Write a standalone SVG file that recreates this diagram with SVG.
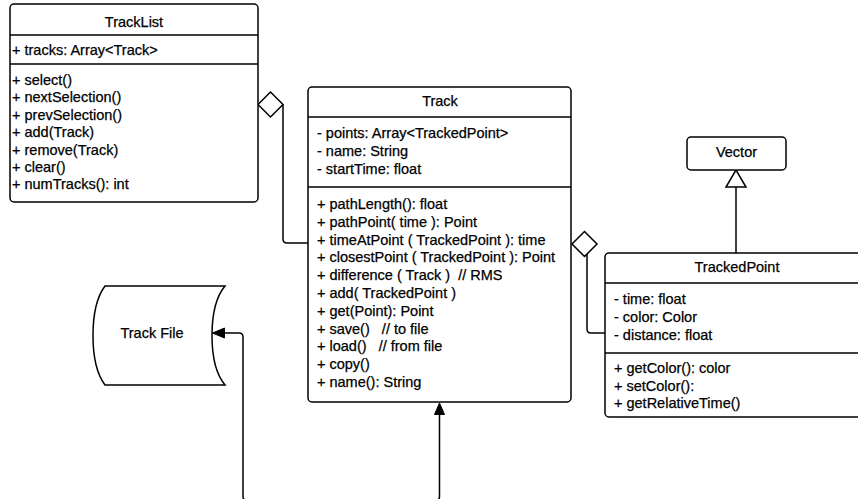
<svg xmlns="http://www.w3.org/2000/svg" width="858" height="499" viewBox="0 0 858 499">
<style>
.box{fill:#fff;stroke:#000;stroke-width:1.5}
.div{stroke:#000;stroke-width:1.5;fill:none}
.t{font-family:"Liberation Sans",Arial,sans-serif;font-size:14.5px;fill:#000;stroke:#000;stroke-width:0.25;white-space:pre}
.c{text-anchor:middle}
.ln{fill:none;stroke:#000;stroke-width:1.5}
.hollow{fill:#fff;stroke:#000;stroke-width:1.5}
.solid{fill:#000;stroke:#000;stroke-width:1}
</style>
<rect width="858" height="499" fill="#fff"/>
<g id="connectors">
<path class="ln" d="M283,104.5 V239 Q283,243 287,243 H308"/>
<polygon class="hollow" points="258,104.5 270.5,92 283,104.5 270.5,117"/>
<path class="ln" d="M587,254 V329 Q587,333 591,333 H605"/>
<polygon class="hollow" points="572,244 584.5,231.5 597,244 584.5,256.5"/>
<path class="ln" d="M736,187 V253"/>
<polygon class="hollow" points="736,170 726,187 746,187"/>
<path class="ln" d="M439.5,414 V496 Q439.5,501 435,501 H247 Q243,501 243,496 V337 Q243,333 239,333 H224"/>
<polygon class="solid" points="439.5,403 434.5,414.5 444.5,414.5"/>
<polygon class="solid" points="212.5,333 224.5,328 224.5,338"/>
</g>
<g id="TrackList">
<rect class="box" x="10" y="4" width="248" height="198" rx="4"/>
<path class="div" d="M10,35 H258 M10,64 H258"/>
<text class="t c" x="134" y="27">TrackList</text>
<text class="t" x="12" y="55">+ tracks: Array&lt;Track&gt;</text>
<text class="t" x="12" y="85">+ select()</text>
<text class="t" x="12" y="102.4">+ nextSelection()</text>
<text class="t" x="12" y="119.8">+ prevSelection()</text>
<text class="t" x="12" y="137.2">+ add(Track)</text>
<text class="t" x="12" y="154.6">+ remove(Track)</text>
<text class="t" x="12" y="172">+ clear()</text>
<text class="t" x="12" y="189.4">+ numTracks(): int</text>
</g>
<g id="Track">
<rect class="box" x="308" y="87" width="263" height="315" rx="4"/>
<path class="div" d="M308,117 H571 M308,187 H571"/>
<text class="t c" x="440" y="106">Track</text>
<text class="t" x="317" y="138">- points: Array&lt;TrackedPoint&gt;</text>
<text class="t" x="317" y="156">- name: String</text>
<text class="t" x="317" y="174">- startTime: float</text>
<text class="t" x="317" y="209">+ pathLength(): float</text>
<text class="t" x="317" y="226.8">+ pathPoint( time ): Point</text>
<text class="t" x="317" y="244.6">+ timeAtPoint ( TrackedPoint ): time</text>
<text class="t" x="317" y="262.4">+ closestPoint ( TrackedPoint ): Point</text>
<text class="t" x="317" y="280.2">+ difference ( Track )  // RMS</text>
<text class="t" x="317" y="298">+ add( TrackedPoint )</text>
<text class="t" x="317" y="315.8">+ get(Point): Point</text>
<text class="t" x="317" y="333.6">+ save()   // to file</text>
<text class="t" x="317" y="351.4">+ load()   // from file</text>
<text class="t" x="317" y="369.2">+ copy()</text>
<text class="t" x="317" y="387">+ name(): String</text>
</g>
<g id="Vector">
<rect class="box" x="687" y="137" width="99" height="33" rx="4"/>
<text class="t c" x="736.5" y="157">Vector</text>
</g>
<g id="TrackedPoint">
<rect class="box" x="605" y="253" width="264" height="164" rx="4"/>
<path class="div" d="M605,283 H869 M605,353 H869"/>
<text class="t c" x="737" y="272">TrackedPoint</text>
<text class="t" x="614" y="304">- time: float</text>
<text class="t" x="614" y="322">- color: Color</text>
<text class="t" x="614" y="340">- distance: float</text>
<text class="t" x="614" y="373">+ getColor(): color</text>
<text class="t" x="614" y="390.5">+ setColor():</text>
<text class="t" x="614" y="408">+ getRelativeTime()</text>
</g>
<g id="TrackFile">
<path class="box" d="M105,286 H225 C215,298 212,318 212,335.5 C212,353 215,373 225,385 H105 C96,373 93,353 93,335.5 C93,318 96,298 105,286 Z"/>
<text class="t c" x="152" y="338">Track File</text>
</g>
</svg>
